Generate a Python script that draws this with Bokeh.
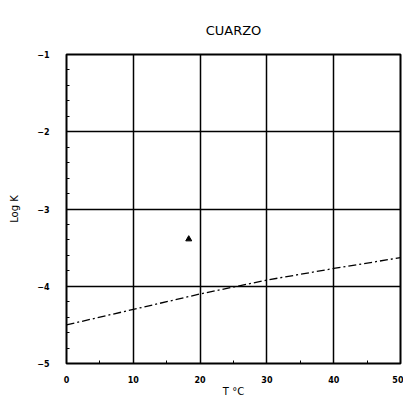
from bokeh.plotting import figure
from bokeh.models import Range1d, FixedTicker
from bokeh.embed import file_html
from bokeh.resources import INLINE

title_text = "CUARZO"
x_label = "T °C"
y_label = "Log K"
x_ticks = [0, 10, 20, 30, 40, 50]
y_ticks = [-5, -4, -3, -2, -1]

line_T = [0, 10, 20, 30, 40, 50]
line_logK = [-4.50, -4.30, -4.10, -3.92, -3.77, -3.63]

point_T = [18.3]
point_logK = [-3.39]

p = figure(width=403, height=405, output_backend="svg", toolbar_location=None,
           x_range=Range1d(0, 50), y_range=Range1d(-5, -1), title=title_text,
           min_border_left=66, min_border_right=3, min_border_top=54, min_border_bottom=42)
p.title.align = "center"
p.title.vertical_align = "top"
p.title.text_font = "DejaVu Sans"
p.title.text_font_size = "13px"
p.title.text_font_style = "normal"
p.title.text_color = "black"
p.title.standoff = 30

for ax in (p.xaxis[0], p.yaxis[0]):
    ax.major_label_text_font = "DejaVu Sans"
    ax.major_label_text_font_size = "8px"
    ax.major_label_text_font_style = "bold"
    ax.major_label_text_color = "black"
    ax.axis_label_text_font = "DejaVu Sans"
    ax.axis_label_text_font_size = "10px"
    ax.axis_label_text_font_style = "normal"
    ax.axis_label_text_color = "black"
    ax.axis_line_color = None
    ax.major_tick_line_color = None
    ax.minor_tick_line_color = "black"
    ax.minor_tick_in = 3
    ax.minor_tick_out = 0

p.xaxis.ticker = FixedTicker(ticks=x_ticks, minor_ticks=[t + 5 for t in x_ticks[:-1]])
p.yaxis.ticker = FixedTicker(ticks=y_ticks, minor_ticks=[y + d for y in y_ticks[:-1] for d in (0.2, 0.4, 0.6, 0.8)])
p.yaxis.major_label_orientation = 0
p.xaxis.axis_label = x_label
p.yaxis.axis_label = y_label
p.xaxis.major_label_standoff = 6
p.yaxis.major_label_standoff = 11
p.xaxis.axis_label_standoff = 0
p.yaxis.axis_label_standoff = 14

p.xgrid.grid_line_color = "black"
p.ygrid.grid_line_color = "black"
p.xgrid.grid_line_width = 1.5
p.ygrid.grid_line_width = 1.5
p.xgrid.grid_line_alpha = 1
p.ygrid.grid_line_alpha = 1

p.outline_line_color = "black"
p.outline_line_width = 2
p.background_fill_color = "white"
p.border_fill_color = "white"

p.line(line_T, line_logK, line_color="black", line_width=1.3, line_dash="8 3 2 3")
p.scatter(point_T, point_logK, marker="triangle", size=6, color="black")

open("out.html", "w").write(file_html(p, INLINE))
